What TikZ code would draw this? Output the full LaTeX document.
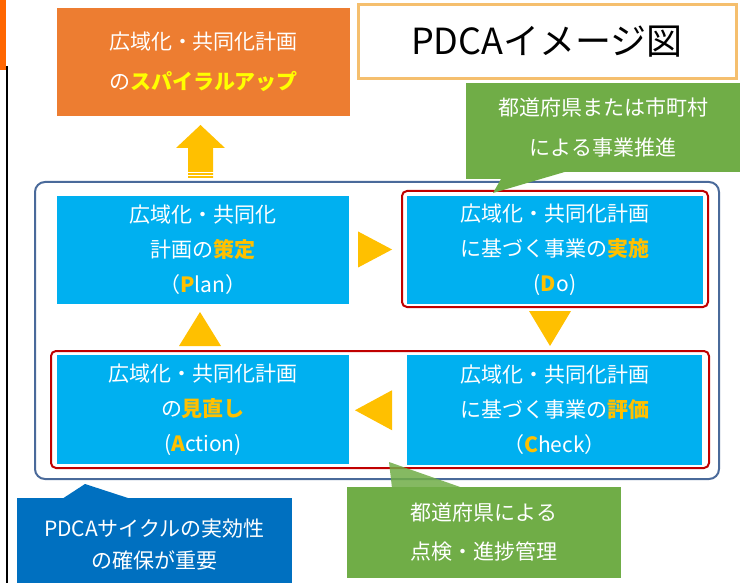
\documentclass[tikz,border=0pt]{standalone}
\usepackage{fontspec}
\setmainfont{Noto Sans CJK JP}
\usetikzlibrary{calc}
\definecolor{orangebox}{HTML}{ED7D31}
\definecolor{barorange}{HTML}{FF6600}
\definecolor{titleborder}{HTML}{F5BF6E}
\definecolor{bluebox}{HTML}{00B0F0}
\definecolor{darkblue}{HTML}{0070C0}
\definecolor{greenbox}{HTML}{70AD47}
\definecolor{hl}{HTML}{FFC000}
\definecolor{yel}{HTML}{FFFF00}
\definecolor{redline}{HTML}{C00000}
\definecolor{frameline}{HTML}{4A6A9A}
\newcommand{\hlt}[1]{{\color{hl}\bfseries #1}}
\begin{document}
\begin{tikzpicture}[x=1pt,y=-1pt,
  box/.style={inner sep=0pt,align=center,text=white},
  txt35/.style={font=\fontsize{21}{35}\selectfont},
  txt40/.style={font=\fontsize{21}{40}\selectfont},
  bluestyle/.style={box,txt35,fill=bluebox},
  redframe/.style={draw=redline,line width=2pt,rounded corners=5pt,inner sep=0pt},
  arr/.style={fill=hl}
]
\useasboundingbox (0,0) rectangle (740,583);
\fill[white] (0,0) rectangle (740,583);
% left bar
\fill[barorange] (0,0) rectangle (6,70);
\coordinate (bartop) at (6.5,66);
\coordinate (barbot) at (6.5,583);
\draw[line width=2pt] (bartop) -- (barbot);

% title
\node[draw=titleborder,line width=3pt,minimum width=378pt,minimum height=74pt,inner sep=0pt,font=\fontsize{36}{40}\selectfont] (title) at (547,41.5) {PDCAイメージ図};

% orange box
\node[box,txt40,fill=orangebox,minimum width=293pt,minimum height=108pt] (spiral) at (203.5,62) {広域化・共同化計画\\の{\color{yel}\bfseries スパイラルアップ}};

% top green callout
\node[box,txt40,fill=greenbox,minimum width=274pt,minimum height=89pt] (gtop) at (603,127.5) {都道府県または市町村\\による事業推進};

% outer frame
\node[draw=frameline,line width=2pt,rounded corners=10pt,minimum width=684pt,minimum height=297pt,inner sep=0pt] (frame) at (377,330.5) {};

% red frames
\node[redframe,minimum width=306pt,minimum height=116pt] (dored) at (555,249) {};
\node[redframe,minimum width=658pt,minimum height=117pt] (botred) at (380,409.5) {};

% blue boxes
\node[bluestyle,minimum width=292pt,minimum height=108pt] (plan) at (203,250) {広域化・共同化\\計画の\hlt{策定}\\（\hlt{P}lan）};
\node[bluestyle,minimum width=296pt,minimum height=108pt] (do) at (555,250) {広域化・共同化計画\\に基づく事業の\hlt{実施}\\(\hlt{D}o)};
\node[bluestyle,minimum width=292pt,minimum height=109pt] (act) at (203,409.5) {広域化・共同化計画\\の\hlt{見直し}\\(\hlt{A}ction)};
\node[bluestyle,minimum width=295pt,minimum height=110pt] (check) at (554.5,410) {広域化・共同化計画\\に基づく事業の\hlt{評価}\\（\hlt{C}heck）};

% triangles
\fill[arr] ($(plan.east)!.5!(dored.west)$) +(-17,-18) -- +(17,0) -- +(-17,18) -- cycle;
\fill[arr] ($(dored.south)!.5!(dored.south |- botred.north)$) ++(-5,0) +(-21,-18) -- +(21,-18) -- +(0,17) -- cycle;
\fill[arr] ($(check.west)!.5!(act.east)$) ++(-4,0.5) +(18,-20) -- +(18,20) -- +(-19,0) -- cycle;
\fill[arr] ($(act.north)!.5!(plan.south)$) ++(-3,-0.5) +(-21,17) -- +(21,17) -- +(0,-17) -- cycle;

% big up arrow
\coordinate (upbase) at (200.5,178);
\fill[arr] (upbase) ++(-12.5,0) -- ++(0,-30) -- ++(-12,0) -- ++(24.5,-23) -- ++(24.5,23) -- ++(-12,0) -- ++(0,30) -- cycle;
\draw[white,line width=0.8pt] ($(upbase)+(-13,-6)$) -- ++(26,0);
\draw[white,line width=0.8pt] ($(upbase)+(-13,-3)$) -- ++(26,0);

% top green pointer
\fill[greenbox] (466,171) -- (466,179) -- (501,179) -- (493,193) -- (568,171) -- cycle;

% bottom-left callout
\node[box,font=\fontsize{21}{32}\selectfont,fill=darkblue,minimum width=275pt,minimum height=94pt] (pdca) at (154.5,545) {PDCAサイクルの実効性\\の確保が重要};
\fill[darkblue] (62,499) -- (85,484) -- (131,499) -- cycle;

% bottom-right callout
\node[box,font=\fontsize{21}{39}\selectfont,fill=greenbox,minimum width=274pt,minimum height=91pt] (gbot) at (484,532.5) {都道府県による\\点検・進捗管理};
\fill[greenbox,opacity=0.85] (389,462) -- (392,488) -- (463,488) -- cycle;
\end{tikzpicture}
\end{document}
